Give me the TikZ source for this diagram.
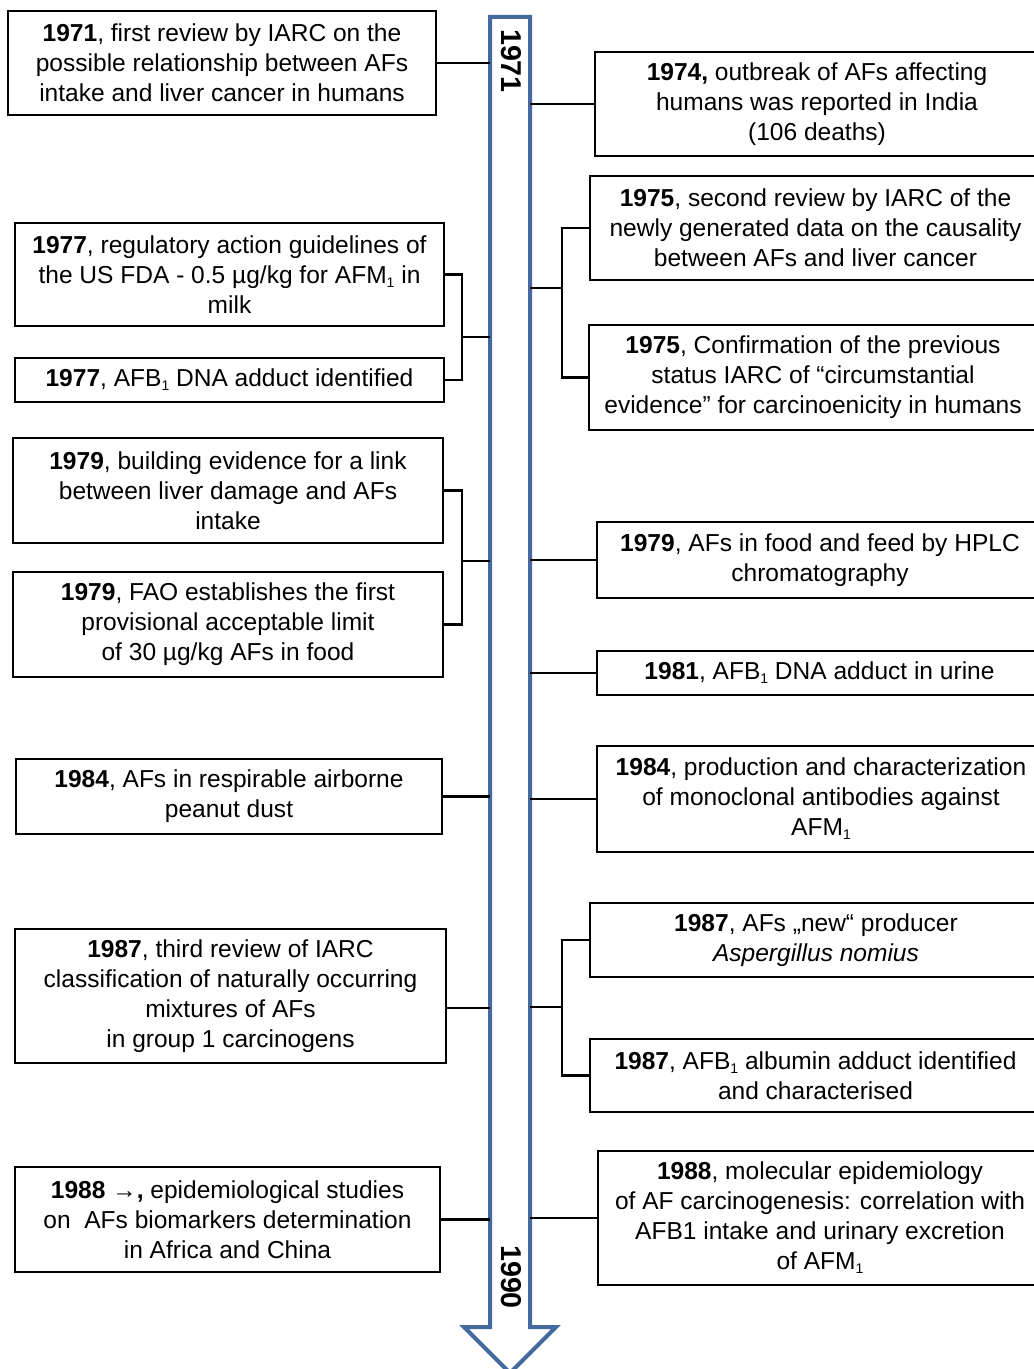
\documentclass[tikz,border=0pt]{standalone}
\usepackage{fontspec}
\setmainfont{Liberation Sans}
\newcommand\bodyfont{\fontsize{18.4}{22.5}\selectfont}
\newcommand\yearfont{\fontsize{21.5}{24}\selectfont\bfseries}
\newcommand\sub[1]{\raisebox{-0.3ex}{\fontsize{10.5}{12}\selectfont #1}}
\definecolor{arrowblue}{RGB}{68,106,160}
\begin{document}
\begin{tikzpicture}[x=0.75pt,y=-0.75pt,
  box/.style 2 args={draw=black, line width=1.5pt, minimum width=#1*0.75pt, minimum height=#2*0.75pt,
    inner sep=0pt, align=center, font=\bodyfont},
  conn/.style={draw=black, line width=1.6pt},
  timearrow/.style={draw=arrowblue, line width=3pt, fill=white, line join=miter},
  yearlabel/.style={rotate=-90, font=\yearfont, inner sep=0pt}]
\useasboundingbox (0,0) rectangle (1033,1369);

% time arrow
\draw[timearrow] (490,17) -- (530,17) -- (530,1327) -- (556,1327) -- (510,1373) -- (464,1327) -- (490,1327) -- cycle;
\coordinate (aL) at (490,0);
\coordinate (aR) at (530,0);
\node[yearlabel] (y71) at (511,61) {1971};
\node[yearlabel] (y90) at (511,1277) {1990};

% left boxes
\node[box={428}{104}] (l71) at (222,63) {\textbf{1971}, first review by IARC on the\\possible relationship between AFs\\intake and liver cancer in humans};
\node[box={429}{103}] (l77a) at (229.5,274.5) {\textbf{1977}, regulatory action guidelines of\\the US FDA - 0.5 µg/kg for AFM\sub{1} in\\milk};
\node[box={429}{44}] (l77b) at (229.5,380) {\textbf{1977}, AFB\sub{1} DNA adduct identified};
\node[box={430}{105}] (l79a) at (228,490.5) {\textbf{1979}, building evidence for a link\\between liver damage and AFs\\intake};
\node[box={430}{105}] (l79b) at (228,624.5) {\textbf{1979}, FAO establishes the first\\provisional acceptable limit\\of 30 µg/kg AFs in food};
\node[box={426}{75}] (l84) at (229,796.5) {\textbf{1984}, AFs in respirable airborne\\peanut dust};
\node[box={431}{134}] (l87) at (230.5,996) {\textbf{1987}, third review of IARC\\classification of naturally occurring\\mixtures of AFs\\in group 1 carcinogens};
\node[box={425}{105}] (l88) at (227.5,1219.5) {\textbf{1988 →,} epidemiological studies\\on\ \ AFs biomarkers determination\\in Africa and China};

% right boxes
\node[box={444}{104}] (r74) at (817,104) {\textbf{1974,} outbreak of AFs affecting\\humans was reported in India\\(106 deaths)};
\node[box={451}{104}] (r75a) at (815.5,228) {\textbf{1975}, second review by IARC of the\\newly generated data on the causality\\between AFs and liver cancer};
\node[box={448}{105}] (r75b) at (813,377.5) {\textbf{1975}, Confirmation of the previous\\status IARC of “circumstantial\\evidence” for carcinoenicity in humans};
\node[box={446}{76}] (r79) at (820,560) {\textbf{1979}, AFs in food and feed by HPLC\\chromatography};
\node[box={445}{44}] (r81) at (819.5,673) {\textbf{1981}, AFB\sub{1} DNA adduct in urine};
\node[box={448}{106}] (r84) at (821,799) {\textbf{1984}, production and characterization\\of monoclonal antibodies against\\AFM\sub{1}};
\node[box={452}{74}] (r87a) at (816,940) {\textbf{1987}, AFs „new“ producer\\\textit{Aspergillus nomius}};
\node[box={451}{73}] (r87b) at (815.5,1075.5) {\textbf{1987}, AFB\sub{1} albumin adduct identified\\and characterised};
\node[box={444}{134}] (r88) at (820,1218) {\textbf{1988}, molecular epidemiology\\of AF carcinogenesis: correlation with\\AFB1 intake and urinary excretion\\of AFM\sub{1}};

% junction points
\coordinate (j77) at (462,337);
\coordinate (j79) at (462,561);
\coordinate (j75) at (562,288);
\coordinate (j87) at (562,1007);
\coordinate (p87) at (446,1008);

% connectors left
\draw[conn] (l71.east) -- (l71.east -| aL);
\draw[conn] (l77a.east) -| (j77) |- (l77b.east);
\draw[conn] (j77) -- (j77 -| aL);
\draw[conn] (l79a.east) -| (j79) |- (l79b.east);
\draw[conn] (j79) -- (j79 -| aL);
\draw[conn] (l84.east) -- (l84.east -| aL);
\draw[conn] (p87) -- (p87 -| aL);
\draw[conn] (l88.east) -- (l88.east -| aL);

% connectors right
\draw[conn] (r74.west) -- (r74.west -| aR);
\draw[conn] (r75a.west) -| (j75) |- (r75b.west);
\draw[conn] (j75) -- (j75 -| aR);
\draw[conn] (r79.west) -- (r79.west -| aR);
\draw[conn] (r81.west) -- (r81.west -| aR);
\draw[conn] (r84.west) -- (r84.west -| aR);
\draw[conn] (r87a.west) -| (j87) |- (r87b.west);
\draw[conn] (j87) -- (j87 -| aR);
\draw[conn] (r88.west) -- (r88.west -| aR);
\end{tikzpicture}
\end{document}
